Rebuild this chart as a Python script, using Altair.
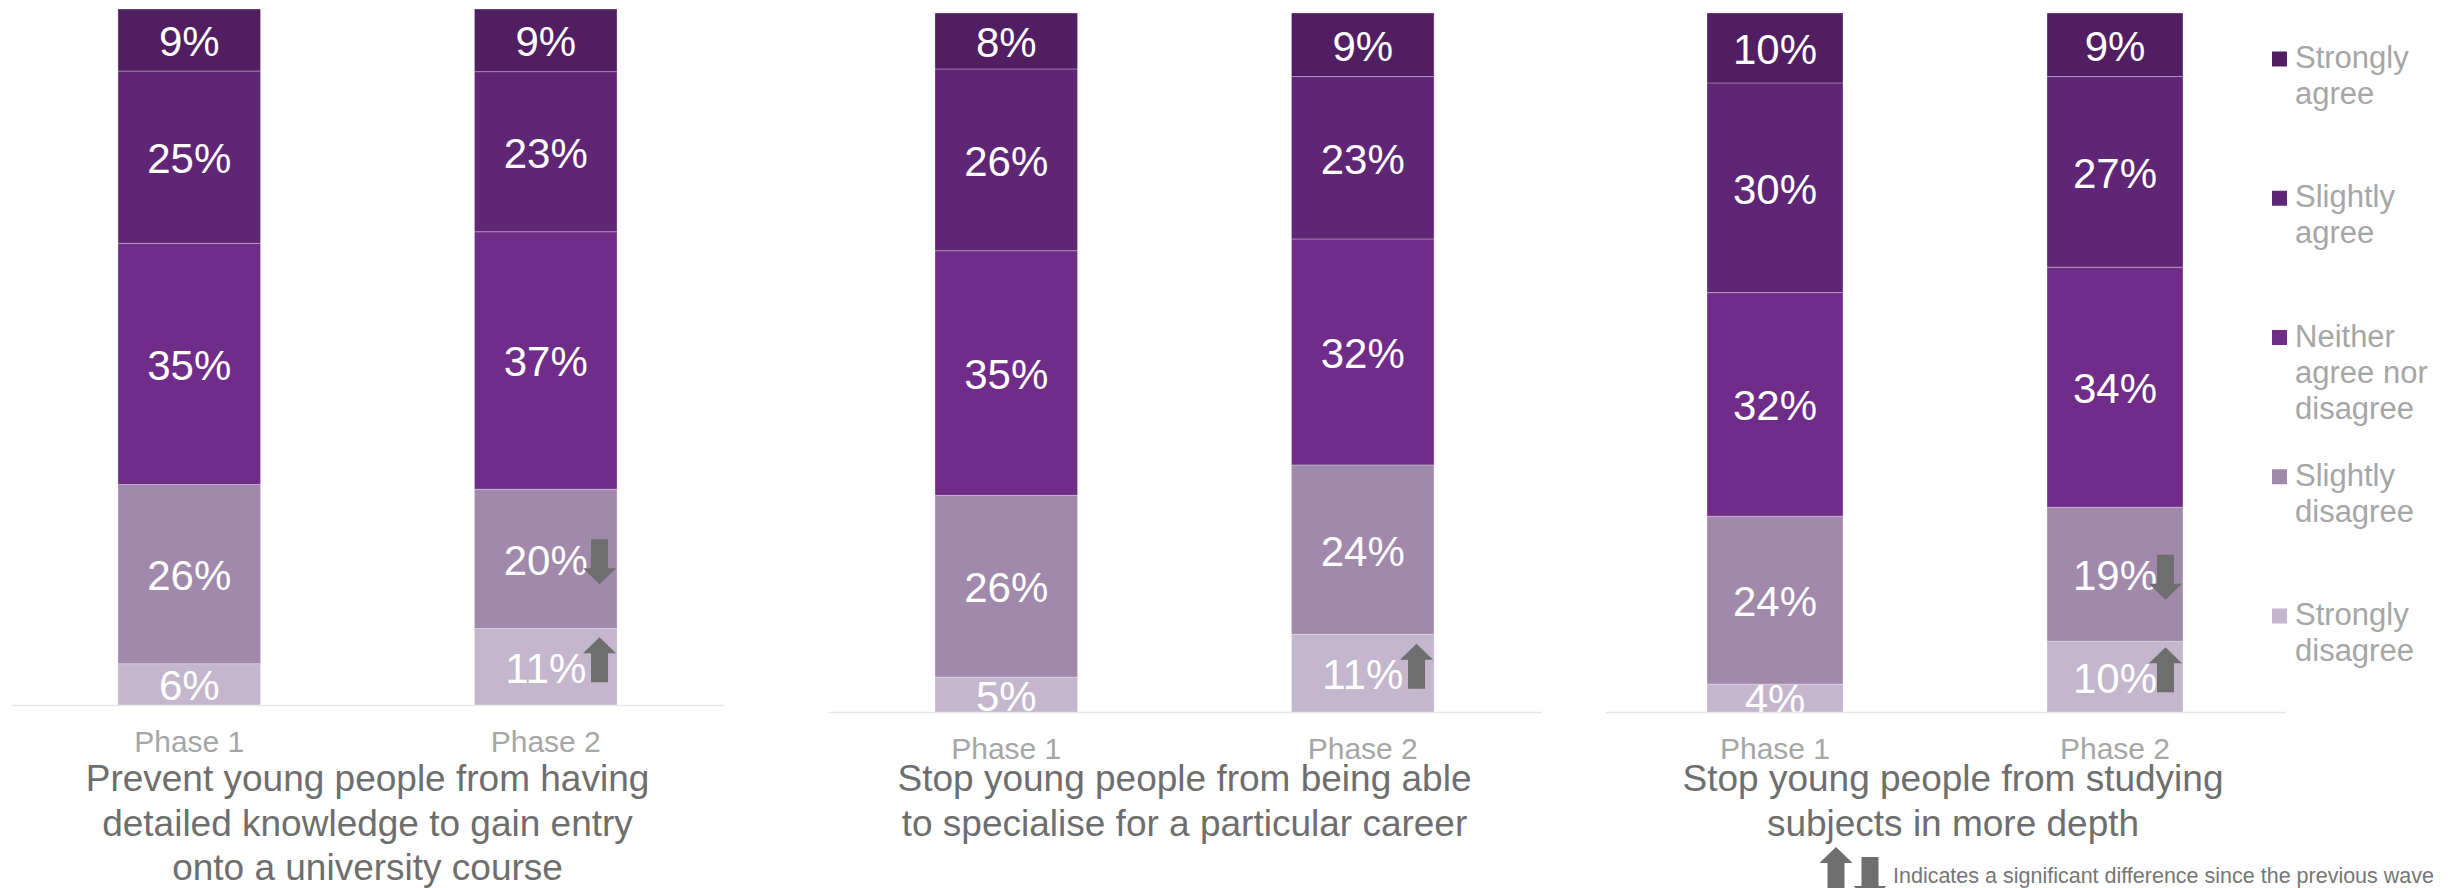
import altair as alt
import pandas as pd

FONT = "Liberation Sans"
PHASES = ["Phase 1", "Phase 2"]
# stacking order, bottom to top
CATEGORIES = ["Strongly disagree", "Slightly disagree", "Neither agree nor disagree",
              "Slightly agree", "Strongly agree"]
COLORS = ["#c4b6cc", "#a089ab", "#6f2c89", "#5f2676", "#521e62"]
LEGEND_ORDER = CATEGORIES[::-1]
LEGEND_LABELS = ["Strongly\nagree", "Slightly\nagree", "Neither\nagree nor\ndisagree",
                 "Slightly\ndisagree", "Strongly\ndisagree"]

TITLE_1 = ["Prevent young people from having", "detailed knowledge to gain entry",
           "onto a university course"]
TITLE_2 = ["Stop young people from being able", "to specialise for a particular career"]
TITLE_3 = ["Stop young people from studying", "subjects in more depth"]

# values per category, bottom to top
PANEL1_PHASE1 = [6, 26, 35, 25, 9]
PANEL1_PHASE2 = [11, 20, 37, 23, 9]
PANEL2_PHASE1 = [5, 26, 35, 26, 8]
PANEL2_PHASE2 = [11, 24, 32, 23, 9]
PANEL3_PHASE1 = [4, 24, 32, 30, 10]
PANEL3_PHASE2 = [10, 19, 34, 27, 9]

SIG_PANEL1 = [("Phase 2", "Slightly disagree", "down"), ("Phase 2", "Strongly disagree", "up")]
SIG_PANEL2 = [("Phase 2", "Strongly disagree", "up")]
SIG_PANEL3 = [("Phase 2", "Slightly disagree", "down"), ("Phase 2", "Strongly disagree", "up")]

NOTE = "Indicates a significant difference since the previous wave"

UP_PATH = "M0,-1L0.733,-0.289L0.378,-0.289L0.378,1L-0.378,1L-0.378,-0.289L-0.733,-0.289Z"
DOWN_PATH = "M-0.378,-1L0.378,-1L0.378,0.289L0.733,0.289L0,1L-0.733,0.289L-0.378,0.289Z"
ARROW_COLOR = "#6e6e6e"
ARROW_SIZE = 2025


def build_df(phase_values, sig):
    sig_map = {(p, c): d for p, c, d in sig}
    rows = []
    for phase, vals in zip(PHASES, phase_values):
        total = float(sum(vals))
        cum = 0
        for cat, v in zip(CATEGORIES, vals):
            rows.append({"phase": phase, "cat": cat, "value": v, "label": f"{v}%",
                         "y0": cum / total, "y1": (cum + v) / total,
                         "sig": sig_map.get((phase, cat), "none")})
            cum += v
    return pd.DataFrame(rows)


color_scale = alt.Scale(domain=CATEGORIES, range=COLORS)


def make_panel(df, title_lines, width, height, ymax, title_x, title_y=771,
               x_range=None, arrow_dx=53.8, extra=None):
    sc = dict(domain=PHASES, paddingInner=0.6, paddingOuter=0.3)
    if x_range is not None:
        sc["range"] = x_range
    x = alt.X("phase:N", sort=PHASES, scale=alt.Scale(**sc),
              axis=alt.Axis(title=None, labelAngle=0, labelFont=FONT, labelFontSize=30,
                            labelColor="#a6a6a6", labelPadding=22, ticks=False, tickSize=0,
                            domainColor="#e6e6e6", domainWidth=1.5, grid=False))
    ys = alt.Scale(domain=[0, ymax], nice=False, zero=True)
    base = alt.Chart(df)
    bars = base.mark_bar(stroke="white", strokeWidth=1, strokeOpacity=0.3).encode(
        x=x, y=alt.Y("y0:Q", scale=ys, axis=None), y2="y1:Q",
        color=alt.Color("cat:N", scale=color_scale, legend=None))
    mid = base.transform_calculate(mid="(datum.y0 + datum.y1) / 2")
    labels = mid.mark_text(font=FONT, fontSize=42, color="white", baseline="middle",
                           dy=3, clip=True).encode(
        x=x, y=alt.Y("mid:Q", scale=ys, axis=None), text="label:N")
    down = mid.transform_filter("datum.sig == 'down'").mark_point(
        shape=DOWN_PATH, filled=True, size=ARROW_SIZE, color=ARROW_COLOR, opacity=1,
        xOffset=arrow_dx, yOffset=3).encode(x=x, y=alt.Y("mid:Q", scale=ys, axis=None))
    up = mid.transform_filter("datum.sig == 'up'").mark_point(
        shape=UP_PATH, filled=True, size=ARROW_SIZE, color=ARROW_COLOR, opacity=1,
        xOffset=arrow_dx, yOffset=-7).encode(x=x, y=alt.Y("mid:Q", scale=ys, axis=None))
    title = alt.Chart(pd.DataFrame({"t": ["\n".join(title_lines)]})).mark_text(
        font=FONT, fontSize=37, color="#6e6e6e", align="center", baseline="middle",
        lineBreak="\n", lineHeight=44.5).encode(
        x=alt.value(title_x), y=alt.value(title_y), text="t:N")
    layers = [bars, labels, down, up, title] + (extra or [])
    ch = alt.layer(*layers)
    if extra:
        ch = ch.resolve_scale(y="independent")
    return ch.properties(width=width, height=height)


df1 = build_df([PANEL1_PHASE1, PANEL1_PHASE2], SIG_PANEL1)
df2 = build_df([PANEL2_PHASE1, PANEL2_PHASE2], SIG_PANEL2)
df3 = build_df([PANEL3_PHASE1, PANEL3_PHASE2], SIG_PANEL3)

# legend + footnote (drawn inside panel 3)
legend_df = pd.DataFrame({"cat": LEGEND_ORDER, "text": LEGEND_LABELS})
ly = alt.Y("cat:N", scale=alt.Scale(type="point", domain=LEGEND_ORDER, range=[50, 607],
                                    padding=0), axis=None)
leg_sq = alt.Chart(legend_df).mark_square(size=225, filled=True, opacity=1).encode(
    x=alt.value(674.5), y=ly, color=alt.Color("cat:N", scale=color_scale, legend=None))
leg_txt = alt.Chart(legend_df).mark_text(
    font=FONT, fontSize=31, color="#a6a6a6", align="left", baseline="middle",
    lineBreak="\n", lineHeight=36).encode(x=alt.value(690), y=ly, text="text:N")

note_df = pd.DataFrame({"note": [NOTE]})
note_txt = alt.Chart(note_df).mark_text(
    font=FONT, fontSize=21.5, color="#767676", align="left",
    baseline="alphabetic").encode(x=alt.value(288), y=alt.value(874), text="note:N")
note_up = alt.Chart(note_df).mark_point(
    shape=UP_PATH, filled=True, size=ARROW_SIZE, color=ARROW_COLOR, opacity=1).encode(
    x=alt.value(231), y=alt.value(860.5))
note_down = alt.Chart(note_df).mark_point(
    shape=DOWN_PATH, filled=True, size=ARROW_SIZE, color=ARROW_COLOR, opacity=1).encode(
    x=alt.value(265), y=alt.value(870.5))

p1 = make_panel(df1, TITLE_1, 713, 696, 1.0, title_x=356.5)
p2 = make_panel(df2, TITLE_2, 753, 703, 703 / 699, title_x=396.5, x_range=[40, 753])
p3 = make_panel(df3, TITLE_3, 680, 703, 703 / 699, title_x=348, arrow_dx=50.5,
                extra=[leg_sq, leg_txt, note_txt, note_up, note_down])

chart = alt.hconcat(p1, p2, p3, spacing=64, bounds="flush").properties(
    padding={"left": 3, "top": 0, "right": 0, "bottom": 0}
).configure_view(strokeWidth=0)

chart.save("out.html", embed_options={"renderer": "svg", "actions": False})
